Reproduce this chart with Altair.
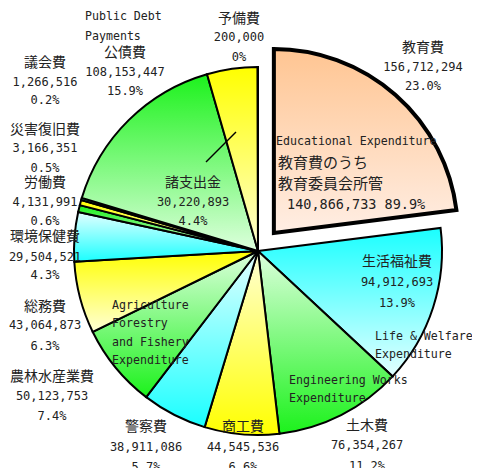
import math
import altair as alt
import pandas as pd

# ---------------- data ----------------
names = ["教育費", "生活福祉費", "土木費", "商工費", "警察費", "農林水産業費", "総務費",
         "環境保健費", "労働費", "災害復旧費", "議会費", "公債費", "諸支出金", "予備費"]
values = [156712294, 94912693, 76354267, 44545536, 38911086, 50123753, 43064873,
          29504521, 4131991, 3166351, 1266516, 108153447, 30220893, 200000]
pcts = ["23.0%", "13.9%", "11.2%", "6.6%", "5.7%", "7.4%", "6.3%",
        "4.3%", "0.6%", "0.5%", "0.2%", "15.9%", "4.4%", "0%"]
edu_sub_lines = ["教育費のうち", "教育委員会所管"]
edu_sub_value = 140866733
edu_sub_pct = "89.9%"
english_edu = ["Educational Expenditure"]
english_welfare = ["Life & Welfare", "Expenditure"]
english_eng = ["Engineering Works", "Expenditure"]
english_agri = ["Agriculture", "Forestry", "and Fishery", "Expenditure"]
english_debt = ["Public Debt", "Payments"]

# ---------------- styles / layout ----------------
M = 8                      # page margin
CX, CY, R = 258 - M, 251 - M, 184
EXPLODE = 24
hues = ["peach", "cyan", "green", "yellow", "cyan", "green", "yellow",
        "cyan", "green", "yellow", "cyan", "green", "yellow", "cyan"]
sat_top = [True, True, False, False, False, False, True,
           False, True, True, True, True, True, True]
palette = {
    "peach": ("#FFC592", "#FFEEE4"),
    "cyan": ("#1AFFFF", "#E4FFFF"),
    "green": ("#1CF21C", "#DDFFDD"),
    "yellow": ("#FFFF00", "#FFFFD6"),
}
label_pos = [
    (423, [48, 67, 86]),
    (397, [262, 282, 303]),
    (367, [426, 445, 466]),
    (243, [427, 447, 467]),
    (146, [427, 447, 467]),
    (52, [377, 396, 416]),
    (45, [307, 325, 346]),
    (45, [237, 257, 275]),
    (45, [183, 202, 221]),
    (45, [130, 148, 168]),
    (45, [63, 82, 100]),
    (125, [53, 72, 91]),
    (193, [183, 202, 221]),
    (239, [19, 37, 57]),
]
CJK = "Noto Sans CJK JP"
MONO = "DejaVu Sans Mono"
TXT = "#222222"

n = len(names)
total = sum(values)
df = pd.DataFrame({"idx": list(range(n)), "name": names, "value": values})
theta_scale = alt.Scale(domain=[0, total], range=[0, 2 * math.pi])

base = alt.Chart(df).transform_window(
    cum="sum(value)", sort=[alt.SortField("idx")], frame=[None, 0]
).transform_calculate(start="datum.cum - datum.value")


def grad(i):
    sat, pale = palette[hues[i]]
    c0, c1 = (sat, pale) if sat_top[i] else (pale, sat)
    return {"gradient": "linear", "x1": 0, "y1": 0, "x2": 0, "y2": 1,
            "stops": [{"offset": 0, "color": c0}, {"offset": 1, "color": c1}]}


layers = []
# exploded slice offset from its bisector angle
mid0 = (values[0] / 2) / total * 2 * math.pi
ex_dx, ex_dy = EXPLODE * math.sin(mid0), -EXPLODE * math.cos(mid0)
for i in list(range(1, n)) + [0]:
    exploded = i == 0
    ch = base.transform_filter(alt.datum.idx == i).mark_arc(
        fill=grad(i), stroke="black", strokeWidth=4 if exploded else 2,
        outerRadius=R, strokeJoin="miter"
    ).encode(
        theta=alt.Theta("start:Q", scale=theta_scale),
        theta2="cum:Q",
        x=alt.value(CX + (ex_dx if exploded else 0)),
        y=alt.value(CY + (ex_dy if exploded else 0)),
    )
    layers.append(ch)

# ---------------- labels ----------------
rows = []
for i in range(n):
    x, ys = label_pos[i]
    rows.append({"t": names[i], "x": x - M, "y": ys[0] - M, "g": "cjk_c"})
    rows.append({"t": f"{values[i]:,}", "x": x - M, "y": ys[1] - M, "g": "mono_c"})
    rows.append({"t": pcts[i], "x": x - M, "y": ys[2] - M, "g": "mono_c"})


def add_left(lines, x, y0, step, g):
    for k, t in enumerate(lines):
        rows.append({"t": t, "x": x - M, "y": y0 + k * step - M, "g": g})


add_left(english_edu, 276, 142, 19, "mono_l")
add_left(edu_sub_lines, 278, 163, 21, "cjk_l_big")
add_left([f"{edu_sub_value:,} {edu_sub_pct}"], 287, 205, 19, "mono_l_big")
add_left(english_welfare, 375, 337, 18, "mono_l")
add_left(english_eng, 289, 381, 18, "mono_l")
add_left(english_agri, 112, 306, 18.3, "mono_l")
add_left(english_debt, 85, 17, 20, "mono_l")
ldf = pd.DataFrame(rows)

styles = {
    "cjk_c": dict(font=CJK, fontSize=14, align="center"),
    "mono_c": dict(font=MONO, fontSize=12, align="center"),
    "mono_l": dict(font=MONO, fontSize=11.6, align="left"),
    "cjk_l_big": dict(font=CJK, fontSize=15, align="left"),
    "mono_l_big": dict(font=MONO, fontSize=13.5, align="left"),
}
for g, st in styles.items():
    t = alt.Chart(ldf).transform_filter(alt.datum.g == g).mark_text(
        baseline="middle", color=TXT, **st
    ).encode(
        x=alt.X("x:Q", scale=None, axis=None),
        y=alt.Y("y:Q", scale=None, axis=None),
        text="t:N",
    )
    layers.append(t)

# leader line for 諸支出金
lead = pd.DataFrame({"x": [206 - M], "y": [162 - M], "x2": [236 - M], "y2": [132 - M]})
layers.append(
    alt.Chart(lead).mark_rule(color="black", strokeWidth=1.5).encode(
        x=alt.X("x:Q", scale=None, axis=None),
        y=alt.Y("y:Q", scale=None, axis=None),
        x2="x2:Q", y2="y2:Q",
    )
)

chart = alt.layer(*layers).properties(
    width=464, height=460, autosize="none", padding=0
).configure_view(stroke=None).resolve_scale(theta="shared")

chart.save("out.html", embed_options={"renderer": "svg", "actions": False})
